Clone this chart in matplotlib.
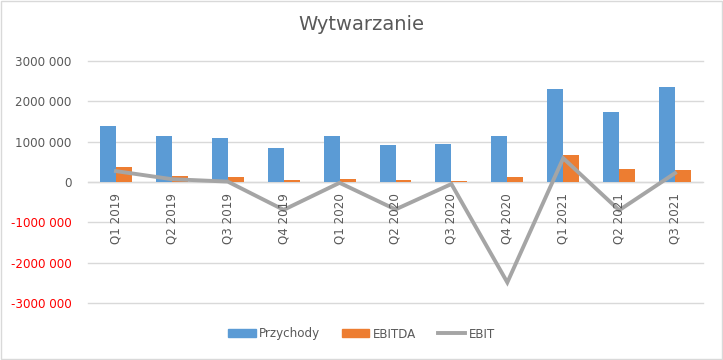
import matplotlib.pyplot as plt
from matplotlib.patches import Rectangle
from matplotlib.lines import Line2D
from matplotlib.ticker import FuncFormatter

quarters = ["Q1 2019", "Q2 2019", "Q3 2019", "Q4 2019", "Q1 2020", "Q2 2020",
            "Q3 2020", "Q4 2020", "Q1 2021", "Q2 2021", "Q3 2021"]
przychody = [1390000, 1140000, 1090000, 840000, 1140000, 920000,
             940000, 1140000, 2310000, 1740000, 2360000]
ebitda = [370000, 150000, 120000, 50000, 70000, 50000,
          25000, 120000, 670000, 330000, 300000]
ebit = [270000, 70000, 10000, -690000, -20000, -680000,
        -50000, -2490000, 590000, -700000, 220000]

blue = "#5B9BD5"
orange = "#ED7D31"
grey = "#A5A5A5"
txt = "#595959"

fig = plt.figure(figsize=(7.23, 3.6), dpi=100)
ax = fig.add_axes([88 / 723, 1 - 303 / 360, 615 / 723, 242 / 360])

x = list(range(len(quarters)))
w = 0.286
ax.bar([i - w / 2 for i in x], przychody, width=w, color=blue, zorder=2)
ax.bar([i + w / 2 for i in x], ebitda, width=w, color=orange, zorder=2)
ax.plot(x, ebit, color=grey, lw=2.8, zorder=3, solid_joinstyle="miter")

ax.set_xlim(-0.5, len(quarters) - 0.5)
ax.set_ylim(-3000000, 3000000)
ax.set_yticks(range(-3000000, 3000001, 1000000))


def fmt(v, pos):
    if v == 0:
        return "0"
    return f"{int(v / 1000)} 000"


ax.yaxis.set_major_formatter(FuncFormatter(fmt))
ax.tick_params(axis="y", length=0, labelsize=8.6, labelcolor=txt, pad=12)
for lab, v in zip(ax.get_yticklabels(), ax.get_yticks()):
    if v < 0:
        lab.set_color("#FF0000")
ax.set_xticks([])
ax.grid(axis="y", color="#D9D9D9", lw=1, zorder=0)
for gl in ax.get_ygridlines():
    gl.set_clip_on(False)
ax.axhline(0, color="#D9D9D9", lw=1, zorder=1)
for s in ax.spines.values():
    s.set_visible(False)

for i, q in enumerate(quarters):
    ax.annotate(q, (i, 0), xytext=(0, -8), textcoords="offset points",
                rotation=90, ha="center", va="top", fontsize=8.6, color=txt, zorder=4)

fig.text(0.5, 1 - 25 / 360, "Wytwarzanie", ha="center", va="center",
         fontsize=14, color=txt)

handles = [Rectangle((0, 0), 1, 1, color=blue),
           Rectangle((0, 0), 1, 1, color=orange),
           Line2D([0], [0], color=grey, lw=2.8)]
fig.legend(handles, ["Przychody", "EBITDA", "EBIT"], loc="center",
           bbox_to_anchor=(0.5, 1 - 334 / 360), ncol=3, frameon=False,
           fontsize=8.6, labelcolor=txt, handlelength=2.3, handleheight=0.6,
           handletextpad=0.3, columnspacing=1.8)

fig.patches.append(Rectangle((0.001, 0.002), 0.997, 0.995, transform=fig.transFigure,
                             fill=False, edgecolor="#D9D9D9", lw=1))

fig.savefig("out.png", dpi=100)
